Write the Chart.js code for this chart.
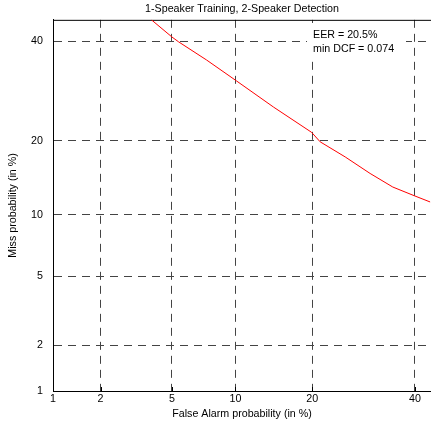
<!DOCTYPE html>
<html>
<head>
<meta charset="utf-8">
<script src="https://cdn.jsdelivr.net/npm/chart.js@4.4.1/dist/chart.umd.min.js"></script>
<style>
  html, body { margin: 0; padding: 0; background: #fff; }
  #wrap { width: 431px; height: 423px; }
</style>
</head>
<body>
<div id="wrap"><canvas id="detChart"></canvas></div>
<script>
// DET curve (percent)
const falseAlarm = [3.9, 5.0, 5.4, 7.4, 10.1, 14.4, 19.9, 21.3, 25.7, 30.5, 35.2, 40.0, 43.4];
const missProb   = [45.0, 41.0, 39.9, 35.8, 31.3, 26.0, 21.4, 19.8, 17.4, 15.0, 13.2, 12.1, 11.4];
const tickValues = [1, 2, 5, 10, 20, 40];
const tickLabels = ['1', '2', '5', '10', '20', '40'];
const resultLines = ['EER = 20.5%', 'min DCF = 0.074'];
const xRange = [1, 43.6];
const yRange = [1, 45];

const FONT = 'Arial, "Liberation Sans", Helvetica, sans-serif';
const FONT_SIZE = 10.7;

// inverse normal CDF (Acklam), percent in -> normal deviate out
function probit(pct) {
  const p = pct / 100;
  const a = [-3.969683028665376e+01, 2.209460984245205e+02, -2.759285104469687e+02, 1.383577518672690e+02, -3.066479806614716e+01, 2.506628277459239e+00];
  const b = [-5.447609879822406e+01, 1.615858368580409e+02, -1.556989798598866e+02, 6.680131188771972e+01, -1.328068155288572e+01];
  const c = [-7.784894002430293e-03, -3.223964580411365e-01, -2.400758277161838e+00, -2.549732539343734e+00, 4.374664141464968e+00, 2.938163982698783e+00];
  const d = [7.784695709041462e-03, 3.224671290700398e-01, 2.445134137142996e+00, 3.754408661907416e+00];
  const lo = 0.02425;
  if (p < lo) {
    const q = Math.sqrt(-2 * Math.log(p));
    return (((((c[0]*q+c[1])*q+c[2])*q+c[3])*q+c[4])*q+c[5]) / ((((d[0]*q+d[1])*q+d[2])*q+d[3])*q+1);
  }
  if (p > 1 - lo) {
    const q = Math.sqrt(-2 * Math.log(1 - p));
    return -(((((c[0]*q+c[1])*q+c[2])*q+c[3])*q+c[4])*q+c[5]) / ((((d[0]*q+d[1])*q+d[2])*q+d[3])*q+1);
  }
  const q = p - 0.5, r = q * q;
  return (((((a[0]*r+a[1])*r+a[2])*r+a[3])*r+a[4])*r+a[5])*q / (((((b[0]*r+b[1])*r+b[2])*r+b[3])*r+b[4])*r+1);
}

const probitTicks = (scale) => { scale.ticks = tickValues.map(v => ({ value: probit(v) })); };

// top border, inner ticks on the bottom axis, and the EER box
const framePlugin = {
  id: 'frame',
  beforeDatasetsDraw(chart) {
    const { ctx, chartArea: a, scales } = chart;
    ctx.save();
    ctx.strokeStyle = '#000';
    ctx.lineWidth = 1;
    ctx.beginPath();
    ctx.moveTo(a.left, a.top + 0.5);
    ctx.lineTo(a.right, a.top + 0.5);
    tickValues.slice(1).forEach(v => {
      const px = Math.round(scales.x.getPixelForValue(probit(v))) + 0.5;
      ctx.moveTo(px, a.bottom);
      ctx.lineTo(px, a.bottom - 4);
    });
    ctx.stroke();

    ctx.fillStyle = '#fff';
    ctx.fillRect(307, 23, 99, 38);
    ctx.fillStyle = '#000';
    ctx.font = FONT_SIZE + 'px ' + FONT;
    ctx.textBaseline = 'middle';
    ctx.textAlign = 'left';
    resultLines.forEach((t, i) => ctx.fillText(t, 313, 35 + i * 14));
    ctx.restore();
  }
};

const tickFont = { family: FONT, size: FONT_SIZE };

new Chart(document.getElementById('detChart'), {
  type: 'line',
  data: {
    datasets: [{
      data: falseAlarm.map((fa, i) => ({ x: probit(fa), y: probit(missProb[i]) })),
      borderColor: '#ff0000',
      borderWidth: 1,
      pointRadius: 0,
      fill: false,
      tension: 0
    }]
  },
  options: {
    responsive: true,
    maintainAspectRatio: false,
    animation: false,
    layout: { padding: 0 },
    plugins: {
      legend: { display: false },
      tooltip: { enabled: false },
      title: {
        display: true,
        fullSize: false,
        text: '1-Speaker Training, 2-Speaker Detection',
        color: '#000',
        font: { family: FONT, size: FONT_SIZE, weight: 'normal' },
        padding: { top: 3, bottom: 4 }
      }
    },
    scales: {
      x: {
        type: 'linear',
        min: probit(xRange[0]),
        max: probit(xRange[1]),
        afterBuildTicks: probitTicks,
        afterFit: s => { s.height = 32; },
        ticks: { callback: (v, i) => tickLabels[i], color: '#000', font: tickFont, padding: 2, maxRotation: 0, autoSkip: false },
        grid: { color: '#444', drawTicks: false, lineWidth: c => (c.index === 0 ? 0 : 1) },
        border: { display: true, color: '#000', width: 1, dash: [8, 6] },
        title: { display: true, text: 'False Alarm probability (in %)', color: '#000', font: tickFont, padding: { top: 0, bottom: 3 } }
      },
      y: {
        type: 'linear',
        min: probit(yRange[0]),
        max: probit(yRange[1]),
        afterBuildTicks: probitTicks,
        afterFit: s => { s.width = 53; },
        ticks: { callback: (v, i) => tickLabels[i], color: '#000', font: tickFont, padding: 10, autoSkip: false },
        grid: { color: '#444', drawTicks: false, lineWidth: c => (c.index === 0 ? 0 : 1) },
        border: { display: true, color: '#000', width: 1, dash: [8, 6] },
        title: { display: true, text: 'Miss probability (in %)', color: '#000', font: tickFont, padding: { top: 7, bottom: 0 } }
      }
    }
  },
  plugins: [framePlugin]
});
</script>
</body>
</html>
